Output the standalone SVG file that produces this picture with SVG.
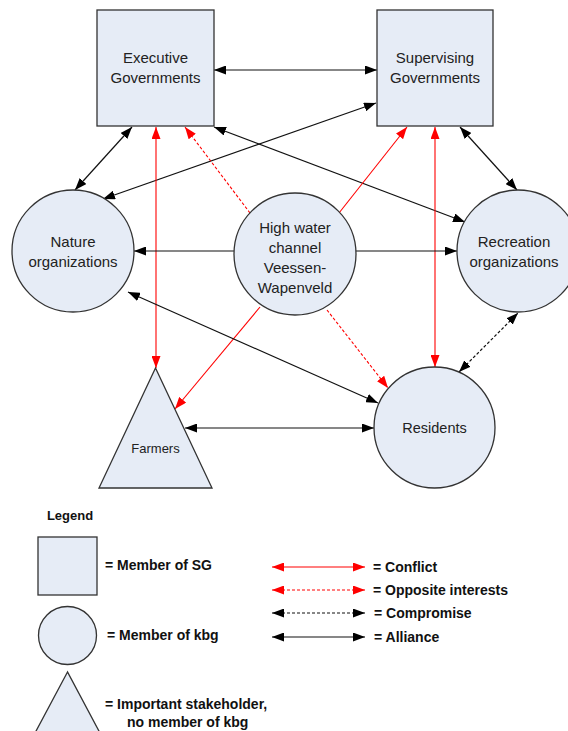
<svg xmlns="http://www.w3.org/2000/svg" width="568" height="731" viewBox="0 0 568 731">
  <style>
    .node { fill: #e6ecf6; stroke: #333; stroke-width: 1.3; }
    .lbl { font-family: "Liberation Sans", Arial, sans-serif; font-size: 15px; fill: #222; text-anchor: middle; }
    .leg { font-family: "Liberation Sans", Arial, sans-serif; font-size: 14px; font-weight: bold; fill: #111; }
    .blk { stroke: #111; stroke-width: 1.2; fill: none; }
    .red { stroke: #ff0000; stroke-width: 1.1; fill: none; }
    .dash { stroke-dasharray: 3 2; }
    .ab { marker-end: url(#hb); marker-start: url(#hb); }
    .ar { marker-end: url(#hr); marker-start: url(#hr); }
    .eb { marker-end: url(#hb); }
    .er { marker-end: url(#hr); }
  </style>
  <defs>
    <marker id="hb" viewBox="0 0 12 9" refX="12" refY="4.5" markerWidth="12" markerHeight="9" markerUnits="userSpaceOnUse" orient="auto-start-reverse">
      <path d="M0,0 L12,4.5 L0,9 z" fill="#000"/>
    </marker>
    <marker id="hr" viewBox="0 0 12 9" refX="12" refY="4.5" markerWidth="12" markerHeight="9" markerUnits="userSpaceOnUse" orient="auto-start-reverse">
      <path d="M0,0 L12,4.5 L0,9 z" fill="#ff0000"/>
    </marker>
  </defs>

  <!-- relations -->
  <g id="connectors">
    <line class="blk ab" x1="214" y1="70" x2="377" y2="70"/>
    <line class="blk ab" x1="132" y1="127" x2="75" y2="190"/>
    <line class="blk ab" x1="376" y1="103" x2="103" y2="199"/>
    <line class="blk ab" x1="214" y1="127" x2="465" y2="222"/>
    <line class="blk ab" x1="460" y1="127" x2="517" y2="190"/>
    <line class="red ar" x1="156" y1="127" x2="156" y2="368"/>
    <line class="red ar" x1="435" y1="127" x2="435" y2="367"/>
    <line class="red dash er" x1="250" y1="213" x2="185" y2="127"/>
    <line class="red er" x1="339" y1="213" x2="407" y2="127"/>
    <line class="blk eb" x1="234" y1="251" x2="134" y2="251"/>
    <line class="blk eb" x1="356" y1="251" x2="457" y2="251"/>
    <line class="red er" x1="260" y1="307" x2="175" y2="409"/>
    <line class="red dash er" x1="327" y1="310" x2="388" y2="388"/>
    <line class="blk ab" x1="128" y1="292" x2="378" y2="403"/>
    <line class="blk ab" x1="185" y1="428" x2="374" y2="428"/>
    <line class="blk dash ab" x1="459" y1="372" x2="518" y2="313"/>
  </g>

  <g id="executive">
    <rect class="node" x="97" y="10" width="117" height="116"/>
    <text class="lbl" x="155.5" y="63">Executive</text>
    <text class="lbl" x="155.5" y="83">Governments</text>
  </g>
  <g id="supervising">
    <rect class="node" x="377" y="10" width="116" height="116"/>
    <text class="lbl" x="435" y="63">Supervising</text>
    <text class="lbl" x="435" y="83">Governments</text>
  </g>
  <g id="nature">
    <circle class="node" cx="73" cy="251" r="61"/>
    <text class="lbl" x="73" y="247">Nature</text>
    <text class="lbl" x="73" y="267">organizations</text>
  </g>
  <g id="channel">
    <circle class="node" cx="295" cy="254" r="61"/>
    <text class="lbl" x="295" y="233">High water</text>
    <text class="lbl" x="295" y="253">channel</text>
    <text class="lbl" x="295" y="273">Veessen-</text>
    <text class="lbl" x="295" y="293">Wapenveld</text>
  </g>
  <g id="recreation">
    <circle class="node" cx="518" cy="251" r="61"/>
    <text class="lbl" x="514" y="247">Recreation</text>
    <text class="lbl" x="514" y="267">organizations</text>
  </g>
  <g id="farmers">
    <polygon class="node" points="155.5,368 99,488 212,488"/>
    <text class="lbl" x="155.5" y="453" style="font-size:13px">Farmers</text>
  </g>
  <g id="residents">
    <circle class="node" cx="434.5" cy="427.5" r="60.5"/>
    <text class="lbl" x="434.5" y="433" style="font-size:14.5px">Residents</text>
  </g>

  <!-- key -->
  <g id="legend">
    <text class="leg" x="70" y="520" text-anchor="middle" style="font-size:13px">Legend</text>
    <rect class="node" x="38" y="537" width="59" height="58"/>
    <text class="leg" x="105" y="570">= Member of SG</text>
    <circle class="node" cx="67.5" cy="635.5" r="29"/>
    <text class="leg" x="107" y="640">= Member of kbg</text>
    <polygon class="node" points="67.5,672 35,733 100,733"/>
    <text class="leg" x="105" y="709">= Important stakeholder,</text>
    <text class="leg" x="127" y="727">no member of kbg</text>
    <line class="red ar" x1="272" y1="567" x2="365" y2="567"/>
    <text class="leg" x="373" y="572">= Conflict</text>
    <line class="red dash ar" x1="272" y1="590" x2="365" y2="590"/>
    <text class="leg" x="373" y="595">= Opposite interests</text>
    <line class="blk dash ab" x1="272" y1="613" x2="365" y2="613"/>
    <text class="leg" x="374" y="618">= Compromise</text>
    <line class="blk ab" x1="272" y1="637" x2="365" y2="637"/>
    <text class="leg" x="374" y="642">= Alliance</text>
  </g>
</svg>
